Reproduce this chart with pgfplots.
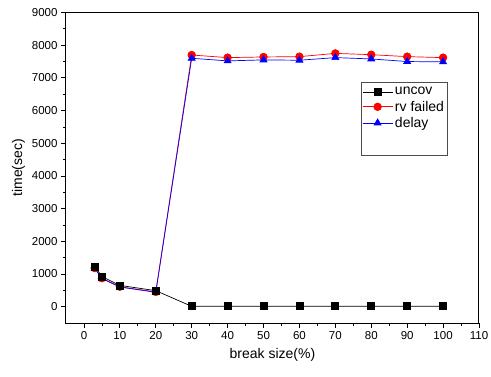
\documentclass[border=0pt]{standalone}
\usepackage{pgfplots}
\pgfplotsset{compat=1.18}
\usepackage{fontspec}
\setmainfont{Liberation Sans}
\begin{document}
\begin{tikzpicture}
\useasboundingbox (-66pt,-53pt) rectangle (425pt,323pt);
\begin{axis}[
  scale only axis, width=413pt, height=310.5pt,
  xmin=-5, xmax=110, ymin=-500, ymax=9000,
  xtick={0,10,...,110}, ytick={0,1000,...,9000},
  minor x tick num=1, minor y tick num=1,
  tick pos=left, tick align=outside,
  major tick length=5pt, minor tick length=3pt,
  every tick/.style={black, line width=0.8pt},
  axis line style={line width=1pt},
  /pgf/number format/assume math mode=true,
  /pgf/number format/1000 sep={},
  tick label style={font=\fontsize{11.5}{13}\selectfont},
  label style={font=\fontsize{14}{16}\selectfont},
  xlabel={break size(\%)}, ylabel={time(sec)},
  xlabel style={yshift=-2pt},
  legend style={at={(rel axis cs:0.714,0.776)}, anchor=north west, draw=black!70, line width=0.8pt,
    font=\fontsize{14}{15}\selectfont, inner xsep=1pt, inner ysep=3pt,
    row sep=0.5pt},
  legend cell align=left,
  legend image code/.code={\draw[mark repeat=2,mark phase=2,#1] plot coordinates {(0pt,0pt) (15pt,0pt) (30pt,0pt)};},
]
\addplot[red, line width=0.7pt, mark=*, mark size=3.8pt, forget plot] coordinates {
(3,1180) (5,870) (10,610) (20,450) (30,7700) (40,7620) (50,7640) (60,7650) (70,7750) (80,7710) (90,7650) (100,7620)};
\addplot[blue, line width=0.7pt, mark=triangle*, mark size=4pt, forget plot] coordinates {
(3,1170) (5,860) (10,600) (20,440) (30,7600) (40,7520) (50,7550) (60,7540) (70,7620) (80,7580) (90,7500) (100,7490)};
\addplot[black, line width=0.7pt, mark=square*, mark size=3.5pt] coordinates {
(3,1230) (5,920) (10,650) (20,490) (30,10) (40,10) (50,10) (60,10) (70,10) (80,10) (90,10) (100,10)};
\addlegendentry{uncov}
\addlegendimage{red, line width=0.7pt, mark=*, mark size=3.8pt}
\addlegendentry{rv failed}
\addlegendimage{blue, line width=0.7pt, mark=triangle*, mark size=4pt}
\addlegendentry{delay}
\addlegendimage{empty legend}
\addlegendentry{\rule{0pt}{16pt}}
\end{axis}
\end{tikzpicture}
\end{document}
